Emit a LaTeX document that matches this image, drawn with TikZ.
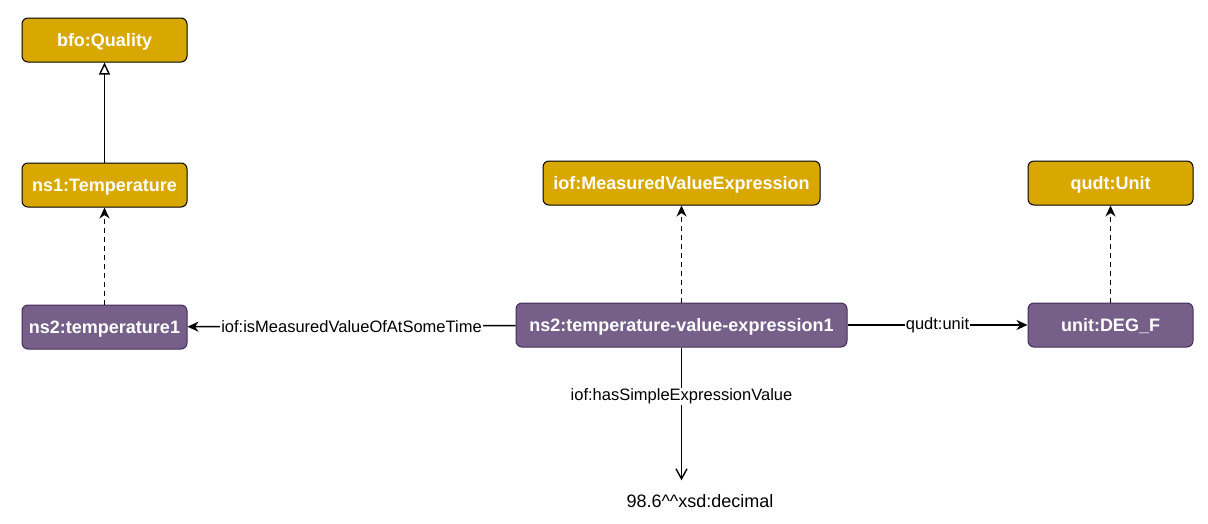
\documentclass[tikz,border=0pt]{standalone}
\usepackage{fontspec}
\setmainfont{Liberation Sans}
\usepackage{tikz}
\usetikzlibrary{arrows.meta,positioning}
\definecolor{classgold}{HTML}{D9A800}
\definecolor{indpurple}{HTML}{76608A}
\definecolor{indedge}{HTML}{432D57}

\begin{document}
\begin{tikzpicture}[
    x=1pt, y=-1pt,
    >={Stealth[length=11pt,width=10pt,inset=3.5pt]},
    line width=1.4pt,
    classbox/.style={draw=black, line width=1pt, rounded corners=6pt, fill=classgold, text=white, font=\fontsize{18}{21}\selectfont\bfseries, text height=13pt, text depth=0pt, minimum width=165pt, minimum height=44pt, align=center},
    indbox/.style={draw=indedge, line width=1pt, rounded corners=6pt, fill=indpurple, text=white, font=\fontsize{18}{21}\selectfont\bfseries, text height=13pt, text depth=0pt, minimum width=165pt, minimum height=44pt, align=center},
    literal/.style={inner xsep=2pt, inner ysep=13pt, font=\fontsize{18}{21}\selectfont},
    rellabel/.style={fill=white, inner sep=1pt, font=\fontsize{16.5}{19}\selectfont},
    typeof/.style={->, dash pattern=on 4.5pt off 4.5pt}
]
\useasboundingbox (0,0) rectangle (1208,523);

\node[classbox] (quality) at (104.5,40) {bfo:Quality};
\node[classbox, below=100pt of quality] (tempclass) {ns1:Temperature};
\node[indbox, below=97pt of tempclass] (temp1) {ns2:temperature1};

\node[indbox, minimum width=331pt] (valexpr) at (681.5,325) {ns2:temperature-value-expression1};
\node[classbox, minimum width=277pt, above=97pt of valexpr] (mve) {iof:MeasuredValueExpression};

\node[indbox, right=180pt of valexpr] (degf) {unit:DEG\_F};
\node[classbox, above=97pt of degf] (unitclass) {qudt:Unit};

\node[literal, anchor=base] (value) at (700,507) {98.6\textasciicircum\textasciicircum xsd:decimal};
\coordinate (valuetop) at (valexpr.south |- value.north);

% class hierarchy and types
\draw[-{Triangle[open,length=12pt,width=11pt]}] (tempclass) -- (quality);
\draw[typeof] (temp1) -- (tempclass);
\draw[typeof] (valexpr) -- (mve);
\draw[typeof] (degf) -- (unitclass);

% relations
\draw[->] (valexpr) -- node[rellabel] {iof:isMeasuredValueOfAtSomeTime} (temp1);
\draw[->] (valexpr) -- node[rellabel] {qudt:unit} (degf);
\draw[-{Straight Barb[length=10pt,width=11pt]}] (valexpr.south) -- node[rellabel, pos=0.37] {iof:hasSimpleExpressionValue} (valuetop);
\end{tikzpicture}
\end{document}
